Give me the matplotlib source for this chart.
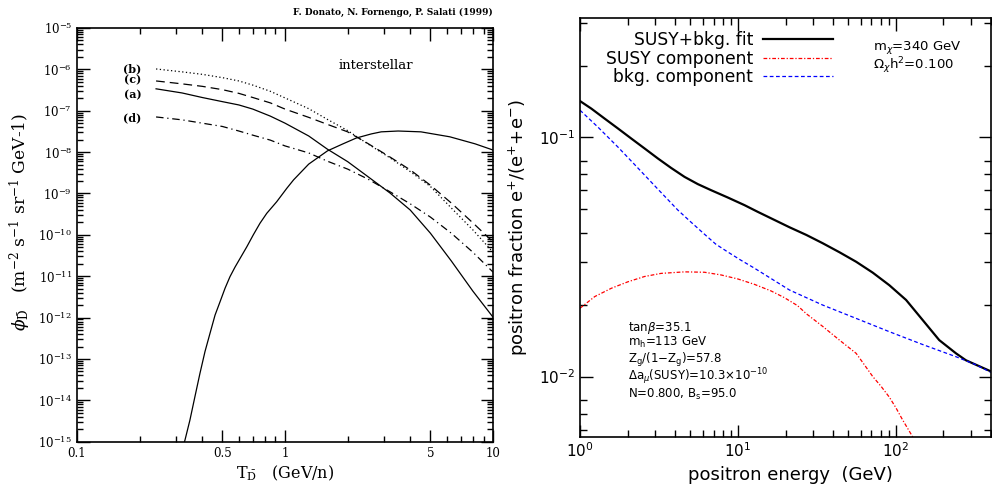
import numpy as np
import matplotlib.pyplot as plt
from matplotlib.ticker import LogLocator, FixedLocator, NullFormatter

plt.rcParams['font.family'] = 'DejaVu Serif'
plt.rcParams['mathtext.fontset'] = 'dejavuserif'

# ---- left panel: antideuteron flux, values as log10(phi) ----
T_prim = [0.24, 0.32, 0.4, 0.5, 0.6, 0.7, 0.85, 1.0, 1.3, 1.6, 2.0, 2.5, 3.2, 4.0, 5.0, 6.3, 8.0, 10.0]
log_a = [-6.47, -6.57, -6.68, -6.78, -6.86, -6.96, -7.13, -7.30, -7.61, -7.93, -8.23, -8.59, -8.99, -9.40, -9.96, -10.63, -11.36, -11.99]
log_b = [-5.99, -6.06, -6.12, -6.20, -6.28, -6.38, -6.53, -6.69, -6.95, -7.21, -7.48, -7.80, -8.14, -8.47, -8.83, -9.35, -9.88, -10.42]
log_c = [-6.28, -6.35, -6.41, -6.49, -6.58, -6.68, -6.81, -6.96, -7.16, -7.33, -7.51, -7.79, -8.12, -8.43, -8.80, -9.23, -9.71, -10.17]
log_d = [-7.15, -7.22, -7.30, -7.38, -7.49, -7.59, -7.71, -7.85, -8.02, -8.22, -8.41, -8.65, -8.96, -9.25, -9.57, -9.96, -10.42, -10.90]

# secondary (background) antideuterons
T_sec = [0.322, 0.3305, 0.349, 0.369, 0.39, 0.4125, 0.436, 0.461, 0.487, 0.515, 0.544, 0.575, 0.608,
         0.655, 0.704, 0.758, 0.817, 0.912, 1.02, 1.1, 1.3, 1.6, 1.9, 2.2, 2.6, 2.9, 3.5, 4.5, 6.2, 8.2, 10.0]
log_sec = [-15.15, -14.96, -14.48, -13.91, -13.35, -12.82, -12.38, -11.94, -11.62, -11.29, -11.01, -10.78, -10.57,
           -10.29, -10.00, -9.72, -9.48, -9.20, -8.875, -8.67, -8.29, -7.97, -7.80, -7.66, -7.56, -7.51, -7.49,
           -7.51, -7.63, -7.80, -7.95]

curve_names = ['(b)', '(c)', '(a)', '(d)']
name_logy = [-5.99, -6.26, -6.62, -7.18]

x_major = [0.1, 0.5, 1, 5, 10]
x_major_labels = ['0.1', '0.5', '1', '5', '10']
x_minor = [0.2, 0.3, 0.4, 0.6, 0.7, 0.8, 0.9, 2, 3, 4, 6, 7, 8, 9]

# ---- right panel: positron fraction ----
E_fit = [1.0, 1.18, 1.43, 1.74, 2.11, 2.56, 3.11, 3.77, 4.59, 5.57, 6.75, 8.61, 11.0, 13.3, 21.2, 27.1,
         34.4, 43.9, 56.0, 71.3, 90.8, 116, 148, 188, 240, 277, 321, 400]
f_fit = [0.142, 0.132, 0.120, 0.109, 0.099, 0.090, 0.0817, 0.0746, 0.0684, 0.0638, 0.0602, 0.0561, 0.0521,
         0.0489, 0.0421, 0.0391, 0.0361, 0.0331, 0.0302, 0.0272, 0.0241, 0.0209, 0.0172, 0.0142, 0.0125,
         0.0117, 0.0112, 0.0105]

E_susy = [1.0, 1.24, 1.58, 2.01, 2.56, 3.26, 4.59, 6.13, 7.81, 9.96, 12.7, 16.2, 19.6, 23.8, 27.1, 34.4,
          43.9, 56.0, 63.1, 71.3, 80.5, 90.8, 100, 110, 127.5, 133]
f_susy = [0.0193, 0.0216, 0.0234, 0.0249, 0.0262, 0.0270, 0.0274, 0.0273, 0.0266, 0.0256, 0.0243, 0.0228,
          0.0214, 0.0198, 0.0183, 0.0162, 0.0142, 0.0125, 0.0112, 0.0100, 0.0091, 0.0082, 0.0074, 0.0066,
          0.0056, 0.0052]

E_bkg = [1.0, 1.30, 1.74, 2.33, 3.11, 4.16, 5.03, 6.13, 7.23, 8.61, 10.4, 12.7, 21.2, 34.4, 56.0, 90.8,
         148, 240, 321, 400]
f_bkg = [0.130, 0.1104, 0.0911, 0.0744, 0.0608, 0.0497, 0.0443, 0.0394, 0.0358, 0.0332, 0.0307, 0.0284,
         0.0230, 0.0199, 0.0175, 0.0154, 0.0136, 0.0121, 0.0112, 0.0104]

params = [r'tan$\beta$=35.1',
          r'm$_{\rm h}$=113 GeV',
          r'Z$_{\rm g}$/(1$-$Z$_{\rm g}$)=57.8',
          r'$\Delta$a$_{\mu}$(SUSY)=10.3$\times$10$^{-10}$',
          r'N=0.800, B$_{\rm s}$=95.0']

fig = plt.figure(figsize=(9.92, 4.87), dpi=100)

# ---------------- left ----------------
ax1 = fig.add_axes([0.0776, 0.093, 0.4194, 0.8495])
ax1.plot(T_prim, 10**np.array(log_b), color='k', lw=0.9, ls=(0, (1, 2)))
ax1.plot(T_prim, 10**np.array(log_c), color='k', lw=0.9, ls=(0, (7, 4)))
ax1.plot(T_prim, 10**np.array(log_a), color='k', lw=0.9)
ax1.plot(T_prim, 10**np.array(log_d), color='k', lw=0.9, ls=(0, (6, 3, 1, 3)))
ax1.plot(T_sec, 10**np.array(log_sec), color='k', lw=0.9)

for name, ly in zip(curve_names, name_logy):
    ax1.text(0.185, 10**ly, name, ha='center', va='center', fontsize=8, fontweight='bold')
ax1.text(2.72, 10**-5.9, 'interstellar', ha='center', va='center', fontsize=9.5)

ax1.set_xscale('log')
ax1.set_yscale('log')
ax1.set_xlim(0.1, 10)
ax1.set_ylim(1e-15, 1e-5)
ax1.set_xticks(x_major, labels=x_major_labels)
ax1.xaxis.set_minor_locator(FixedLocator(x_minor))
ax1.xaxis.set_minor_formatter(NullFormatter())
ax1.yaxis.set_major_locator(LogLocator(base=10, numticks=20))
ax1.yaxis.set_minor_locator(LogLocator(base=10, subs=np.arange(2, 10), numticks=200))
ax1.yaxis.set_minor_formatter(NullFormatter())
ax1.tick_params(which='both', direction='in', top=True, right=True, labelsize=8.5, width=1)
ax1.tick_params(which='major', length=9)
ax1.tick_params(which='minor', length=4.5)
for s in ax1.spines.values():
    s.set_linewidth(1.2)
ax1.set_xlabel(r'T$_{\bar{\rm D}}$   (GeV/n)', fontsize=11.5, labelpad=3)
ax1.set_ylabel(r'$\phi_{\bar{\rm D}}$   (m$^{-2}$ s$^{-1}$ sr$^{-1}$ GeV-1)', fontsize=12.3)
ax1.yaxis.set_label_coords(-0.105, 0.531)
fig.text(0.497, 0.965, 'F. Donato, N. Fornengo, P. Salati (1999)', ha='right', va='bottom',
         fontsize=6.5, fontweight='bold')

# ---------------- right ----------------
sans = 'DejaVu Sans'
ax2 = fig.add_axes([0.5847, 0.1033, 0.4143, 0.8597])
ax2.plot(E_fit, f_fit, color='k', lw=1.6, label='SUSY+bkg. fit')
ax2.plot(E_susy, f_susy, color='red', lw=0.9, ls=(0, (3, 1.5, 1, 1.5)), label='SUSY component')
ax2.plot(E_bkg, f_bkg, color='blue', lw=0.9, ls=(0, (3, 2)), label='bkg. component')

ax2.set_xscale('log')
ax2.set_yscale('log')
ax2.set_xlim(1, 400)
ax2.set_ylim(0.0056, 0.316)
ax2.xaxis.set_minor_locator(LogLocator(base=10, subs=np.arange(2, 10), numticks=50))
ax2.yaxis.set_minor_locator(LogLocator(base=10, subs=np.arange(2, 9), numticks=50))
ax2.xaxis.set_minor_formatter(NullFormatter())
ax2.yaxis.set_minor_formatter(NullFormatter())
ax2.tick_params(which='both', direction='in', top=True, right=True, labelsize=11, width=1)
ax2.tick_params(which='major', length=9)
ax2.tick_params(which='minor', length=5)
for s in ax2.spines.values():
    s.set_linewidth(1.2)
for lab in ax2.get_xticklabels() + ax2.get_yticklabels():
    lab.set_family(sans)
    lab.set_math_fontfamily('dejavusans')

ax2.set_xlabel('positron energy  (GeV)', family=sans, fontsize=13)
ax2.xaxis.set_label_coords(0.512, -0.07)
ax2.set_ylabel(r'positron fraction e$^{+}$/(e$^{+}$+e$^{-}$)', family=sans, fontsize=13,
               math_fontfamily='dejavusans')
ax2.yaxis.set_label_coords(-0.122, 0.5)

leg = ax2.legend(loc='upper right', bbox_to_anchor=(0.654, 1.005), frameon=False, markerfirst=False,
                 handlelength=4.1, handletextpad=0.6, labelspacing=0.03,
                 prop={'family': sans, 'size': 12.3})

ax2.text(0.712, 0.93, r'm$_{\chi}$=340 GeV', transform=ax2.transAxes, family=sans, fontsize=9.5,
         math_fontfamily='dejavusans', va='center')
ax2.text(0.712, 0.885, r'$\Omega_{\chi}$h$^{2}$=0.100', transform=ax2.transAxes, family=sans, fontsize=9.5,
         math_fontfamily='dejavusans', va='center')
# text block lines, placed top to bottom
line_y = [0.2600, 0.2240, 0.1840, 0.1425, 0.1000]
for line, yy in zip(params, line_y):
    ax2.text(0.117, yy, line, transform=ax2.transAxes, family=sans, fontsize=8.5,
             math_fontfamily='dejavusans', va='center')

fig.savefig('out.png', dpi=100)
